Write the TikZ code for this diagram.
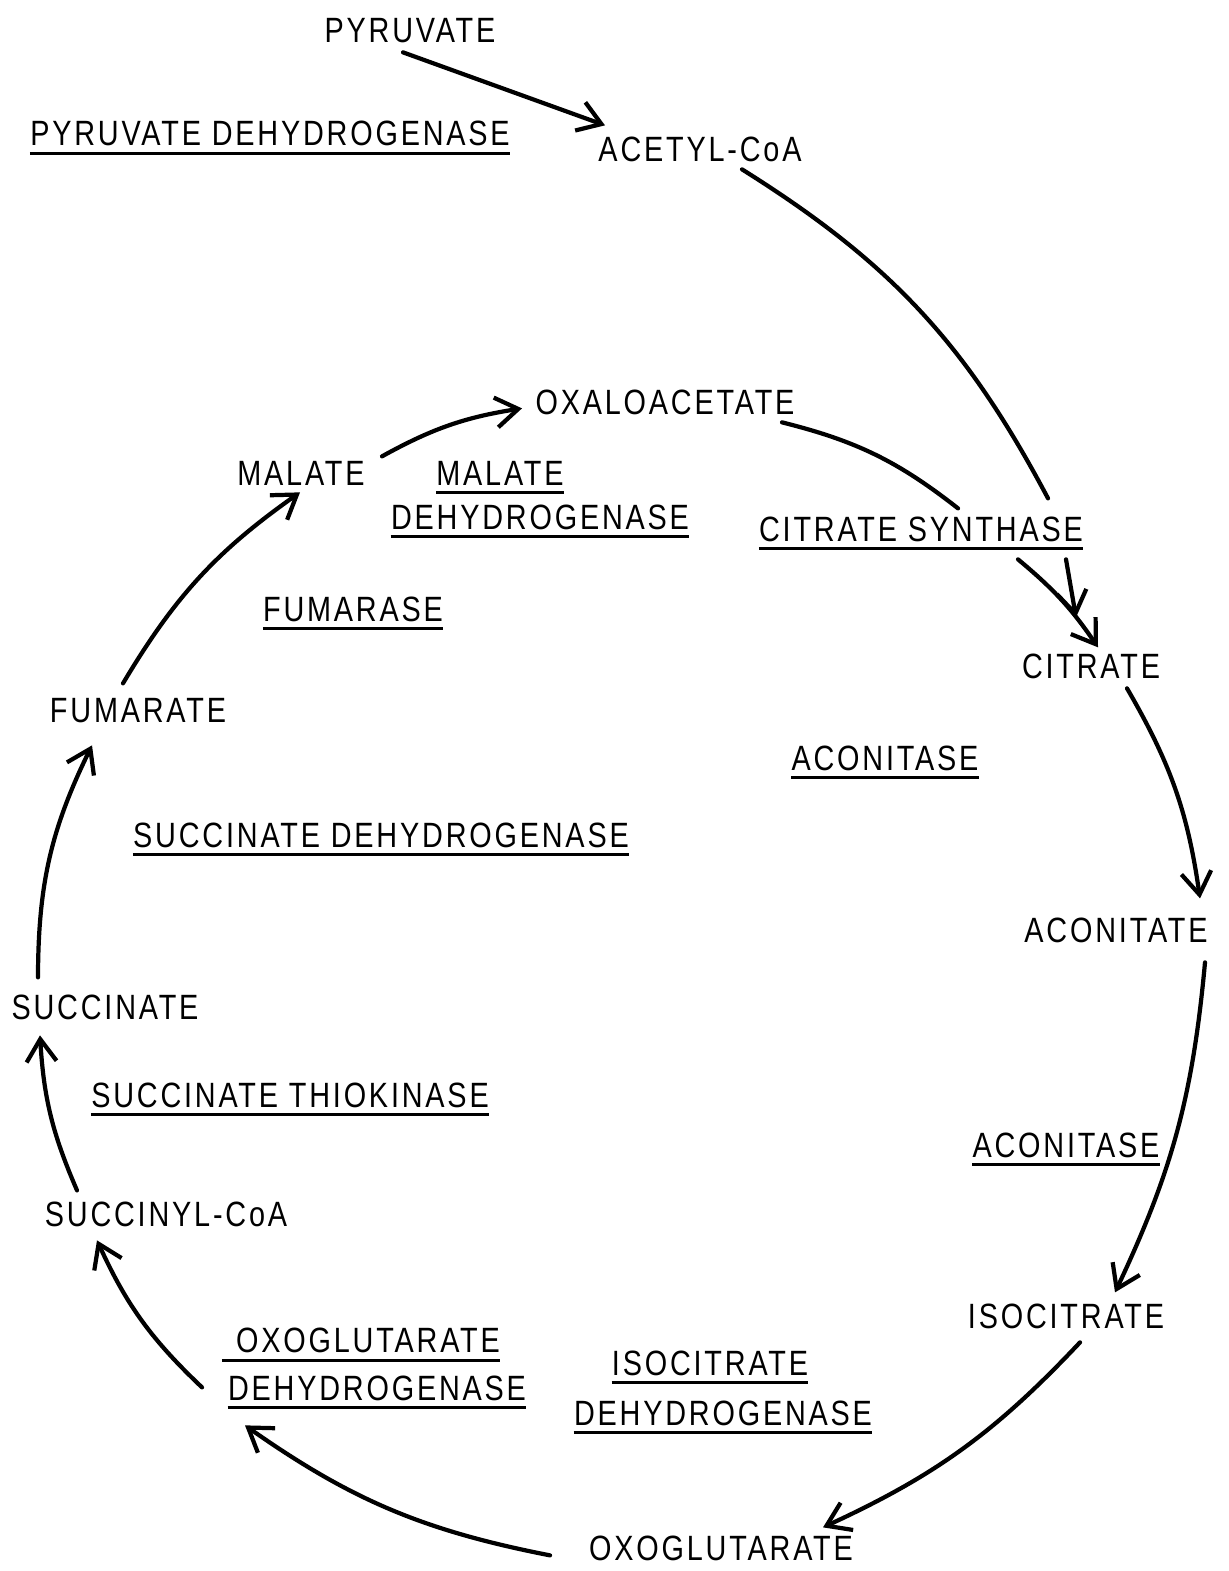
\documentclass[tikz,border=0pt]{standalone}
\usepackage{fontspec}
\setmainfont{Liberation Sans}[FakeStretch=0.82, LetterSpace=8]
\usetikzlibrary{arrows.meta}
\tikzstyle{metab} = [inner sep=0pt, text depth=0pt, anchor=base, font=\fontsize{20}{24}\selectfont]
\tikzstyle{enzyme} = [metab]
\tikzstyle{link} = [line width=2.4pt, line cap=round]
\tikzstyle{arrow} = [link, -{Straight Barb[length=4.5mm,width=6mm]}]
\tikzstyle{uline} = [line width=1.5pt]

\begin{document}
\begin{tikzpicture}[x=0.02cm, y=-0.02cm]
\useasboundingbox (0,0) rectangle (1228,1571);

% Metabolites
\node (pyr) [metab] at (410,43) {PYRUVATE};
\node (acetyl) [metab] at (700,162) {ACETYL-CoA};
\node (oxalo) [metab] at (665,414) {OXALOACETATE};
\node (malate) [metab] at (301,485) {MALATE};
\node (citrate) [metab] at (1091,678) {CITRATE};
\node (fumarate) [metab] at (138,722) {FUMARATE};
\node (aconitate) [metab] at (1116,942) {ACONITATE};
\node (succinate) [metab] at (105,1019) {SUCCINATE};
\node (succinyl) [metab] at (166,1226) {SUCCINYL-CoA};
\node (isocit) [metab] at (1066,1328) {ISOCITRATE};
\node (oxoglut) [metab] at (721,1560) {OXOGLUTARATE};

% Enzymes
\node (pdh) [enzyme] at (270,146) {PYRUVATE DEHYDROGENASE};
\node (mdhA) [enzyme] at (500,485) {MALATE};
\node (mdhB) [enzyme] at (540,529) {DEHYDROGENASE};
\node (cs) [enzyme] at (921,541) {CITRATE SYNTHASE};
\node (fum) [enzyme] at (353,621) {FUMARASE};
\node (acoA) [enzyme] at (885,770) {ACONITASE};
\node (sdh) [enzyme] at (381,847) {SUCCINATE DEHYDROGENASE};
\node (sth) [enzyme] at (290,1107) {SUCCINATE THIOKINASE};
\node (acoB) [enzyme] at (1066,1157) {ACONITASE};
\node (ogdhA) [enzyme] at (368,1352) {OXOGLUTARATE};
\node (ogdhB) [enzyme] at (377,1400) {DEHYDROGENASE};
\node (idhA) [enzyme] at (710,1375) {ISOCITRATE};
\node (idhB) [enzyme] at (723,1425) {DEHYDROGENASE};

% Underlines
\foreach \n in {pdh,mdhA,mdhB,cs,fum,acoA,sdh,sth,acoB,ogdhB,idhA,idhB}
  \draw [uline] ([shift={(0,7)}]\n.south west) -- ([shift={(0,7)}]\n.south east);
\draw [uline] ([shift={(-14,8)}]ogdhA.south west) -- ([shift={(0,8)}]ogdhA.south east);

% Connecting arrows
\draw [arrow] ([shift={(-7,9)}]pyr.south) -- ([shift={(-95,-37)}]acetyl.south);
\draw [link] ([shift={(42,7)}]acetyl.south) to[bend left=15] ([shift={(127,-43)}]cs.south);
\draw [link] ([shift={(117,8)}]oxalo.south) to[bend left=12] ([shift={(37,-33)}]cs.south);
\draw [arrow] ([shift={(97,18)}]cs.south) to[bend left=8] ([shift={(7,-31)}]citrate.south);
\draw [arrow] ([shift={(145,18)}]cs.south) -- ([shift={(-15,-61)}]citrate.south);
\draw [arrow] ([shift={(36,10)}]citrate.south) to[bend left=11] ([shift={(84,-44)}]aconitate.south);
\draw [arrow] ([shift={(89,20)}]aconitate.south) to[bend left=10] ([shift={(49,-36)}]isocit.south);
\draw [arrow] ([shift={(14,14)}]isocit.south) to[bend left=11] ([shift={(102,-33)}]oxoglut.south);
\draw [arrow] ([shift={(-171,-5)}]oxoglut.south) to[bend left=12] ([shift={(-132,25)}]ogdhB.south);
\draw [arrow] ([shift={(-166,35)}]ogdhA.south) to[bend left=11] ([shift={(-69,14)}]succinyl.south);
\draw [arrow] ([shift={(-89,-36)}]succinyl.south) to[bend left=10] ([shift={(-65,16)}]succinate.south);
\draw [arrow] ([shift={(-67,-42)}]succinate.south) to[bend left=13] ([shift={(-46,23)}]fumarate.south);
\draw [arrow] ([shift={(-15,-39)}]fumarate.south) to[bend left=12] ([shift={(-1,7)}]malate.south);
\draw [arrow] ([shift={(81,-29)}]malate.south) to[bend left=10] ([shift={(-143,-6)}]oxalo.south);

\end{tikzpicture}
\end{document}
